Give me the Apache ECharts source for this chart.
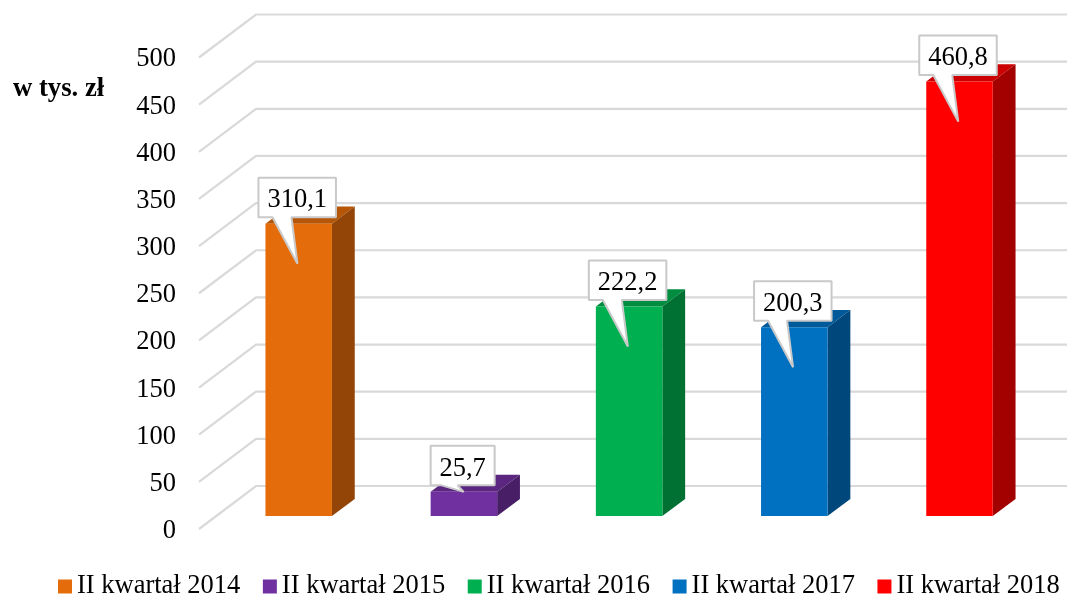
<!DOCTYPE html>
<html>
<head>
<meta charset="utf-8">
<style>
html, body { margin: 0; padding: 0; background: #fff; }
#container { width: 1067px; height: 596px; }
</style>
<script src="https://cdn.jsdelivr.net/npm/echarts@6/dist/echarts.min.js"></script>
</head>
<body>
<div id="container"></div>
<script>
var categories = ['II kwartał 2014', 'II kwartał 2015', 'II kwartał 2016', 'II kwartał 2017', 'II kwartał 2018'];
var values     = [310.1, 25.7, 222.2, 200.3, 460.8];
var frontColor = ['#E46C0A', '#7030A0', '#00B050', '#0070C0', '#FF0000'];
var topColor   = ['#B65608', '#5A2680', '#008D40', '#005A9A', '#CC0000'];
var sideColor  = ['#924506', '#481F66', '#007133', '#00487B', '#A30000'];
var gridTicks  = [0, 50, 100, 150, 200, 250, 300, 350, 400, 450, 500];

var fontName = '"Liberation Serif", serif';
var fontSize = 26.5;

// floor depth of the fake 3D box, bar stands between 30% and 70% of it
var depthX = 57;
var depthY = -43;

var chart = echarts.init(document.getElementById('container'));

function renderGrid(params, api) {
    var p = api.coord([0, api.value(0)]);
    var x0 = params.coordSys.x;
    var x1 = x0 + params.coordSys.width;
    return {
        type: 'polyline',
        shape: { points: [[x0, p[1]], [x0 + depthX, p[1] + depthY], [x1 + depthX, p[1] + depthY]] },
        style: { fill: null, stroke: '#D9D9D9', lineWidth: 2.2 }
    };
}

function renderBar(i) {
    return function (params, api) {
        var top  = api.coord([api.value(0), api.value(1)]);
        var base = api.coord([api.value(0), 0]);
        var w = api.size([1, 0])[0] * 0.4025;
        var l = top[0] + depthX * 0.3 - w / 2;
        var r = l + w;
        var t = top[1] + depthY * 0.3;
        var b = base[1] + depthY * 0.3;
        var dx = depthX * 0.4;
        var dy = depthY * 0.4;

        // callout
        var boxW = api.value(1) >= 100 ? 77.5 : 64;
        var boxL = api.value(1) >= 100 ? l - 7 : l;
        var boxT = t - 46;
        var boxB = boxT + 39.5;
        var tall = b - t > 40;
        var tipX = tall ? l + 32 : l + 33;
        var tipY = tall ? t + 40 : t;
        var tail0 = tall ? l + 7 : l + 11;
        var tail1 = tall ? l + 26 : l + 27;

        return {
            type: 'group',
            children: [
                { type: 'polygon', shape: { points: [[l, t], [l + dx, t + dy], [r + dx, t + dy], [r, t]] }, style: { fill: topColor[i] } },
                { type: 'polygon', shape: { points: [[r, t], [r + dx, t + dy], [r + dx, b + dy], [r, b]] }, style: { fill: sideColor[i] } },
                { type: 'rect', shape: { x: l, y: t, width: w, height: b - t }, style: { fill: frontColor[i] } },
                {
                    type: 'polygon',
                    shape: { points: [[boxL, boxT], [boxL + boxW, boxT], [boxL + boxW, boxB], [tail1, boxB], [tipX, tipY], [tail0, boxB], [boxL, boxB]] },
                    style: { fill: '#fff', stroke: '#C9C9C9', lineWidth: 2, lineJoin: 'bevel' }
                },
                {
                    type: 'text',
                    style: {
                        x: boxL + boxW / 2,
                        y: (boxT + boxB) / 2 + 3,
                        text: String(api.value(1)).replace('.', ','),
                        align: 'center',
                        verticalAlign: 'middle',
                        fill: '#000',
                        font: fontSize + 'px ' + fontName
                    }
                }
            ]
        };
    };
}

var series = [{
    type: 'custom',
    name: 'siatka',
    silent: true,
    z: 1,
    data: gridTicks,
    encode: { y: 0 },
    renderItem: renderGrid
}];

for (var i in categories) {
    series.push({
        type: 'custom',
        name: categories[i],
        z: 2,
        itemStyle: { color: frontColor[i] },
        data: [[+i, values[i]]],
        encode: { x: 0, y: 1 },
        renderItem: renderBar(+i)
    });
}

option = {
    animation: false,
    backgroundColor: '#fff',
    title: {
        text: 'w tys. zł',
        left: 13,
        top: 76,
        padding: 0,
        textStyle: { fontFamily: fontName, fontSize: 26.7, fontWeight: 'bold', color: '#000' }
    },
    legend: {
        data: categories,
        left: 58,
        top: 573,
        padding: 0,
        icon: 'rect',
        itemWidth: 14,
        itemHeight: 14,
        itemGap: 22.5,
        selectedMode: false,
        textStyle: { fontFamily: fontName, fontSize: fontSize, color: '#000', padding: [3, 0, 0, 0] }
    },
    grid: { left: 199, top: 57.5, width: 826, height: 471.5 },
    xAxis: {
        type: 'category',
        data: [0, 1, 2, 3, 4],
        axisLine: { show: false },
        axisTick: { show: false },
        axisLabel: { show: false },
        splitLine: { show: false }
    },
    yAxis: {
        type: 'value',
        min: 0,
        max: 500,
        interval: 50,
        axisLine: { show: false },
        axisTick: { show: false },
        splitLine: { show: false },
        axisLabel: {
            margin: 23,
            fontFamily: fontName,
            fontSize: fontSize,
            color: '#000',
            verticalAlign: 'top',
            lineHeight: 26,
            padding: [-11, 0, 0, 0]
        }
    },
    series: series
};

chart.setOption(option, true);
</script>
</body>
</html>
